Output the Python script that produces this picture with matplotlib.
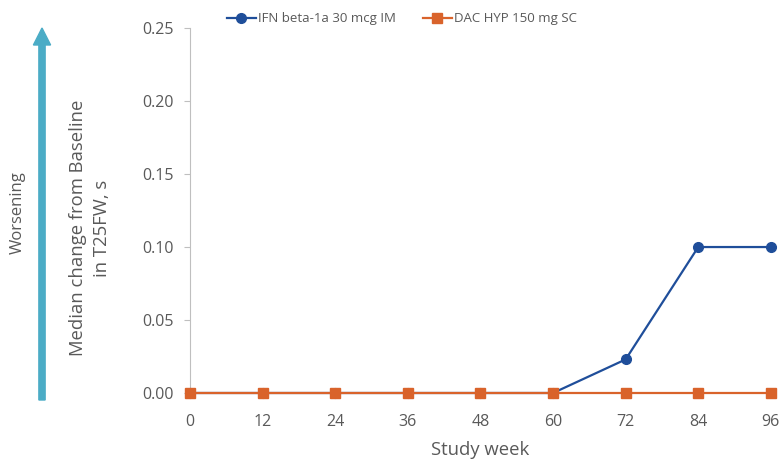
import matplotlib.pyplot as plt
from matplotlib.patches import FancyArrow

plt.rcParams['font.family'] = ['Open Sans', 'DejaVu Sans']

weeks = [0, 12, 24, 36, 48, 60, 72, 84, 96]
ifn = [0, 0, 0, 0, 0, 0, 0.023, 0.10, 0.10]
dac = [0, 0, 0, 0, 0, 0, 0, 0, 0]
yticks = [0.00, 0.05, 0.10, 0.15, 0.20, 0.25]

blue = '#1F4E9A'
orange = '#D9632B'
grey = '#595959'

fig = plt.figure(figsize=(7.81, 4.59), dpi=100)
ax = fig.add_axes([0.2433, 0.1438, 0.7437, 0.795])

ax.plot(weeks, ifn, color=blue, marker='o', markersize=7, lw=1.6,
        label='IFN beta-1a 30 mcg IM', zorder=3, clip_on=False)
ax.plot(weeks, dac, color=orange, marker='s', markersize=7, lw=1.6,
        label='DAC HYP 150 mg SC', zorder=4, clip_on=False)

ax.set_xlim(0, 96)
ax.set_ylim(0, 0.25)
ax.set_xticks(weeks)
ax.set_yticks(yticks)
ax.set_yticklabels([f'{v:.2f}' for v in yticks])
ax.tick_params(axis='y', colors=grey, labelsize=11.5, length=4, color='#BFBFBF', pad=8)
ax.tick_params(axis='x', colors=grey, labelsize=11.5, length=0, pad=15)
for s in ['top', 'right', 'bottom']:
    ax.spines[s].set_visible(False)
ax.spines['left'].set_color('#BFBFBF')
ax.set_xlabel('Study week', fontsize=13.3, color=grey, labelpad=8)
for lab in ax.get_xticklabels() + ax.get_yticklabels():
    lab.set_color(grey)

# y label placed by hand, as in the original
fig.text(90 / 781, 1 - 228 / 459, 'Median change from Baseline\nin T25FW, s',
         rotation=90, ha='center', va='center', multialignment='center',
         fontsize=13.3, color=grey, linespacing=1.45)

ax.legend(loc='lower center', bbox_to_anchor=(0.365, 0.975), ncol=2,
          frameon=False, fontsize=9.5, handlelength=2.2, columnspacing=2.0,
          handletextpad=0.2, labelcolor=grey)

# worsening arrow
fig.patches.append(FancyArrow(42 / 781, 1 - 400 / 459, 0, (400 - 45) / 459,
                              width=0.008, head_width=0.022, head_length=0.037,
                              length_includes_head=False, color='#4BACC6',
                              transform=fig.transFigure, figure=fig))
fig.text(18 / 781, 1 - 213 / 459, 'Worsening', rotation=90, ha='center',
         va='center', fontsize=12, color=grey)

fig.savefig('out.png', dpi=100)
